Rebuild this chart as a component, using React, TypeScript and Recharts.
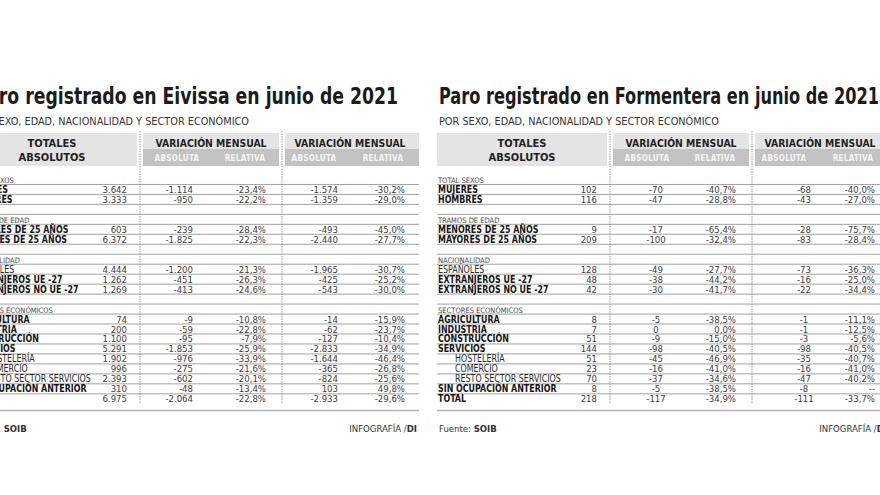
import React from 'react';
import { ComposedChart, XAxis, YAxis, Bar, Customized } from 'recharts';

const FONT = "'Liberation Sans Narrow', 'Arial Narrow', 'DejaVu Sans Condensed', sans-serif";

// ---------- data ----------
const rowLabels = [
  'TOTAL SEXOS', 'MUJERES', 'HOMBRES', '',
  'TRAMOS DE EDAD', 'MENORES DE 25 AÑOS', 'MAYORES DE 25 AÑOS', '',
  'NACIONALIDAD', 'ESPAÑOLES', 'EXTRANJEROS UE -27', 'EXTRANJEROS NO UE -27', '',
  'SECTORES ECONÓMICOS', 'AGRICULTURA', 'INDUSTRIA', 'CONSTRUCCIÓN', 'SERVICIOS',
  'HOSTELERÍA', 'COMERCIO', 'RESTO SECTOR SERVICIOS', 'SIN OCUPACIÓN ANTERIOR', 'TOTAL',
];
const rowKinds = [
  'group', 'bold', 'bold', 'blank',
  'group', 'bold', 'bold', 'blank',
  'group', 'plain', 'bold', 'bold', 'blank',
  'group', 'bold', 'bold', 'bold', 'bold',
  'sub', 'sub', 'sub', 'bold', 'total',
];

const headerTotals = ['TOTALES', 'ABSOLUTOS'];
const headerVariation = 'VARIACIÓN MENSUAL';
const headerSub = ['ABSOLUTA', 'RELATIVA'];
const subtitleText = 'POR SEXO, EDAD, NACIONALIDAD Y SECTOR ECONÓMICO';

const eivissaTotales = [null, 3642, 3333, null, null, 603, 6372, null, null, 4444, 1262, 1269, null, null, 74, 200, 1100, 5291, 1902, 996, 2393, 310, 6975];
const eivissaAbs1 = [null, -1114, -950, null, null, -239, -1825, null, null, -1200, -451, -413, null, null, -9, -59, -95, -1853, -976, -275, -602, -48, -2064];
const eivissaRel1 = [null, -23.4, -22.2, null, null, -28.4, -22.3, null, null, -21.3, -26.3, -24.6, null, null, -10.8, -22.8, -7.9, -25.9, -33.9, -21.6, -20.1, -13.4, -22.8];
const eivissaAbs2 = [null, -1574, -1359, null, null, -493, -2440, null, null, -1965, -425, -543, null, null, -14, -62, -127, -2833, -1644, -365, -824, 103, -2933];
const eivissaRel2 = [null, -30.2, -29.0, null, null, -45.0, -27.7, null, null, -30.7, -25.2, -30.0, null, null, -15.9, -23.7, -10.4, -34.9, -46.4, -26.8, -25.6, 49.8, -29.6];

const formenteraTotales = [null, 102, 116, null, null, 9, 209, null, null, 128, 48, 42, null, null, 8, 7, 51, 144, 51, 23, 70, 8, 218];
const formenteraAbs1 = [null, -70, -47, null, null, -17, -100, null, null, -49, -38, -30, null, null, -5, 0, -9, -98, -45, -16, -37, -5, -117];
const formenteraRel1 = [null, -40.7, -28.8, null, null, -65.4, -32.4, null, null, -27.7, -44.2, -41.7, null, null, -38.5, 0.0, -15.0, -40.5, -46.9, -41.0, -34.6, -38.5, -34.9];
const formenteraAbs2 = [null, -68, -43, null, null, -28, -83, null, null, -73, -16, -22, null, null, -1, -1, -3, -98, -35, -16, -47, -8, -111];
const formenteraRel2 = [null, -40.0, -27.0, null, null, -75.7, -28.4, null, null, -36.3, -25.0, -34.4, null, null, -11.1, -12.5, -5.6, -40.5, -40.7, -41.0, -40.2, null, -33.7];

// ---------- formatting ----------
const fmtInt = (v: number | null) => {
  if (v == null) return '--';
  const s = Math.abs(v).toString().replace(/\B(?=(\d{3})+(?!\d))/g, '.');
  return (v < 0 ? '-' : '') + s;
};
const fmtPct = (v: number | null) => {
  if (v == null) return '--';
  return (v < 0 ? '-' : '') + Math.abs(v).toFixed(1).replace('.', ',') + '%';
};

const W = 452;
const H = 495;
const TOP = 174.5;
const BOTTOM = 403.8;

type PanelProps = {
  title: string;
  titleX: number;
  titleLen: number;
  totals: (number | null)[];
  abs1: (number | null)[];
  rel1: (number | null)[];
  abs2: (number | null)[];
  rel2: (number | null)[];
  absAnchor: 'end' | 'middle';
  abs1X: number;
  abs2X: number;
};

const TEXT = '#1f1f1f';
const NUM = '#3c3c3c';

function Frame({ p }: { p: PanelProps }) {
  return (
    <g fontFamily={FONT}>
      <text x={p.titleX} y={104} fontSize={23} fontWeight="bold" fill="#1b1b1b" textLength={p.titleLen} lengthAdjust="spacingAndGlyphs">
        {p.title}
      </text>
      <text x={2} y={125} fontSize={11} fill="#333" textLength={280} lengthAdjust="spacingAndGlyphs">
        {subtitleText}
      </text>
      {/* header boxes */}
      <rect x={0} y={133} width={170} height={33} fill="#e4e4e4" />
      <text x={85} y={147} fontSize={11} fontWeight="bold" fill={TEXT} textAnchor="middle">{headerTotals[0]}</text>
      <text x={85} y={161} fontSize={11} fontWeight="bold" fill={TEXT} textAnchor="middle">{headerTotals[1]}</text>

      {[{ x0: 176, x1: 312 }, { x0: 318, x1: 452 }].map((b, k) => (
        <g key={k}>
          <rect x={b.x0} y={133} width={b.x1 - b.x0} height={16} fill="#e4e4e4" />
          <rect x={b.x0} y={149} width={b.x1 - b.x0} height={17} fill="#c3c3c3" />
          <text x={(k === 0 ? 244 : 383) - 55.5} y={147} fontSize={10.5} fontWeight="bold" fill={TEXT} textLength={111} lengthAdjust="spacingAndGlyphs">{headerVariation}</text>
          <text x={k === 0 ? 210 : 347} y={161} fontSize={8} fontWeight="bold" fill="#f6f6f6" textAnchor="middle" letterSpacing={0.3}>{headerSub[0]}</text>
          <text x={k === 0 ? 278 : 416} y={161} fontSize={8} fontWeight="bold" fill="#f6f6f6" textAnchor="middle" letterSpacing={0.3}>{headerSub[1]}</text>
        </g>
      ))}
      {/* separators */}
      <line x1={173} x2={173} y1={131} y2={404} stroke="#9a9a9a" strokeWidth={1} strokeDasharray="1.5 1" />
      <line x1={315} x2={315} y1={131} y2={404} stroke="#9a9a9a" strokeWidth={1} strokeDasharray="1.5 1" />
      {/* bottom rule */}
      <line x1={0} x2={W} y1={410.5} y2={410.5} stroke="#b4b4b4" strokeWidth={1.5} />
      {/* footer */}
      <text x={2} y={432} fontSize={9.5} fill="#333">
        <tspan>Fuente: </tspan>
        <tspan fontWeight="bold">SOIB</tspan>
      </text>
      <text x={450} y={432} fontSize={9.5} fill="#333" textAnchor="end">
        <tspan>INFOGRAFÍA /</tspan>
        <tspan fontWeight="bold">DI</tspan>
      </text>
    </g>
  );
}

function Panel(p: PanelProps) {
  const data = rowLabels.map((label, i) => ({
    id: label || `blank-${i}`,
    idx: i,
    total: p.totals[i] ?? 0,
  }));

  const renderTick = (tp: any) => {
    const value = tp.payload?.value;
    const i = data.findIndex((d) => d.id === value);
    if (i < 0) return <g />;
    const y = tp.y;
    const base = y + 3.5;
    const kind = rowKinds[i];
    const isData = kind === 'bold' || kind === 'plain' || kind === 'sub' || kind === 'total';
    const label = rowLabels[i];
    let labelEl = null;
    if (kind === 'group') {
      labelEl = <text x={1} y={base} fontSize={7.5} fill="#4a4a4a">{label}</text>;
    } else if (kind !== 'blank') {
      const lx = kind === 'sub' ? 18 : 1;
      const bold = kind === 'bold' || kind === 'total';
      labelEl = (
        <text
          transform={`translate(${lx},${base}) scale(0.9,1)`}
          x={0}
          y={0}
          fontSize={9.8}
          fontWeight={bold ? 'bold' : 'normal'}
          fill={bold ? '#151515' : '#2a2a2a'}
        >
          {label}
        </text>
      );
    }
    return (
      <g fontFamily={FONT}>
        {kind !== 'total' && (
          <line x1={0} x2={W} y1={y + 4.97} y2={y + 4.97} stroke="#8a8a8a" strokeWidth={0.8} />
        )}
        {labelEl}
        {isData && (
          <g fontSize={9.5} fill={NUM}>
            <text x={160} y={base} textAnchor="end">{fmtInt(p.totals[i])}</text>
            <text x={p.abs1X} y={base} textAnchor={p.absAnchor}>{fmtInt(p.abs1[i])}</text>
            <text x={299} y={base} textAnchor="end">{fmtPct(p.rel1[i])}</text>
            <text x={p.abs2X} y={base} textAnchor={p.absAnchor}>{fmtInt(p.abs2[i])}</text>
            <text x={438} y={base} textAnchor="end">{fmtPct(p.rel2[i])}</text>
          </g>
        )}
      </g>
    );
  };

  return (
    <ComposedChart
      width={W}
      height={H}
      data={data}
      layout="vertical"
      margin={{ top: TOP, right: 0, bottom: H - BOTTOM, left: 0 }}
    >
      <XAxis type="number" hide domain={[0, 100000]} />
      <YAxis
        type="category"
        dataKey="id"
        width={1}
        interval={0}
        tickLine={false}
        axisLine={false}
        tick={renderTick}
      />
      <Bar dataKey="total" fill="none" isAnimationActive={false} />
      <Customized component={<Frame p={p} />} />
    </ComposedChart>
  );
}

export default function App() {
  return (
    <div style={{ position: 'absolute', left: 0, top: 0, width: 880, height: 495, overflow: 'hidden', background: '#fff' }}>
      <div style={{ position: 'absolute', left: -33, top: 0 }}>
        <Panel
          title="Paro registrado en Eivissa en junio de 2021"
          titleX={8}
          titleLen={423}
          totals={eivissaTotales}
          abs1={eivissaAbs1}
          rel1={eivissaRel1}
          abs2={eivissaAbs2}
          rel2={eivissaRel2}
          absAnchor="end"
          abs1X={226}
          abs2X={371}
        />
      </div>
      <div style={{ position: 'absolute', left: 437, top: 0 }}>
        <Panel
          title="Paro registrado en Formentera en junio de 2021"
          titleX={2}
          titleLen={440}
          totals={formenteraTotales}
          abs1={formenteraAbs1}
          rel1={formenteraRel1}
          abs2={formenteraAbs2}
          rel2={formenteraRel2}
          absAnchor="middle"
          abs1X={219}
          abs2X={367}
        />
      </div>
    </div>
  );
}
